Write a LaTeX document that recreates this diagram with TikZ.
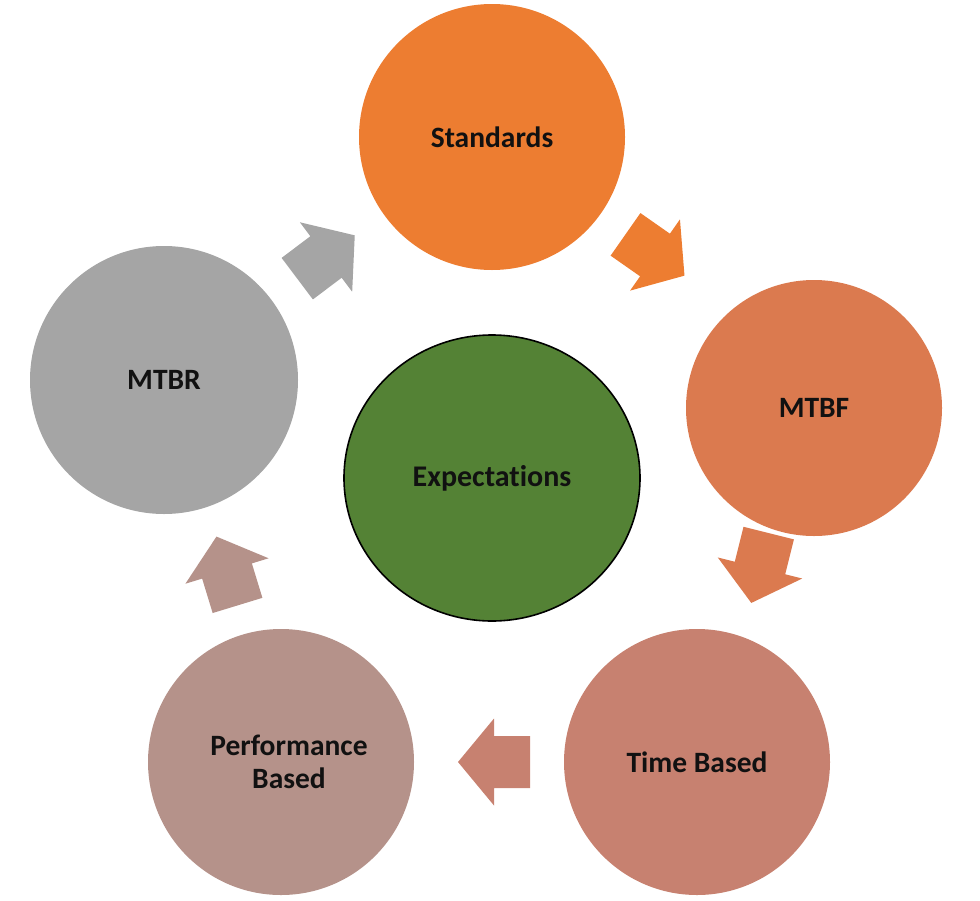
\documentclass[tikz,border=0pt]{standalone}
\usepackage{fontspec}
\setmainfont{Carlito}[Ligatures={NoCommon}]
\usetikzlibrary{shapes.geometric}
\definecolor{cStd}{HTML}{ED7D31}
\definecolor{cMTBF}{HTML}{DB7A4F}
\definecolor{cTime}{HTML}{C78170}
\definecolor{cPerf}{HTML}{B5928A}
\definecolor{cMTBR}{HTML}{A5A5A5}
\definecolor{cExp}{HTML}{548235}
\definecolor{cTxt}{HTML}{111111}
\newcommand\cyclearrow[4]{%
  \fill[#4,shift={(#1,#2)},rotate=#3] (-36,-26) -- (0,-26) -- (0,-43.5) -- (36,0) -- (0,43.5) -- (0,26) -- (-36,26) -- cycle;}
\begin{document}
\begin{tikzpicture}[x=1pt,y=-1pt,
  bubble/.style={circle,minimum size=266pt,inner sep=0pt,align=center,
    font=\fontsize{29.5}{33}\selectfont\bfseries,text=cTxt}]
\useasboundingbox (0,0) rectangle (980,900);
\node[bubble,fill=cStd] (std) at (492,137) {Standards};
\node[bubble,fill=cMTBF,minimum size=256pt] (mtbf) at (814,408) {MTBF};
\node[bubble,fill=cTime] (time) at (697,762) {Time Based};
\node[bubble,fill=cPerf] (perf) at (281,762) {\hspace*{16pt}Performance\\\hspace*{16pt}Based};
\node[bubble,fill=cMTBR,minimum size=268pt] (mtbr) at (164,380) {MTBR};
\node[ellipse,draw=black,line width=1.6pt,fill=cExp,minimum width=296pt,minimum height=286pt,inner sep=0pt,
  font=\fontsize{30}{34}\selectfont\bfseries,text=cTxt] (exp) at (492,478) {Expectations};
\cyclearrow{326}{257}{37}{cMTBR}
\cyclearrow{655}{255}{-35}{cStd}
\cyclearrow{760}{568}{-104}{cMTBF}
\cyclearrow{494}{762}{180}{cTime}
\cyclearrow{227}{571}{107}{cPerf}
\end{tikzpicture}
\end{document}
